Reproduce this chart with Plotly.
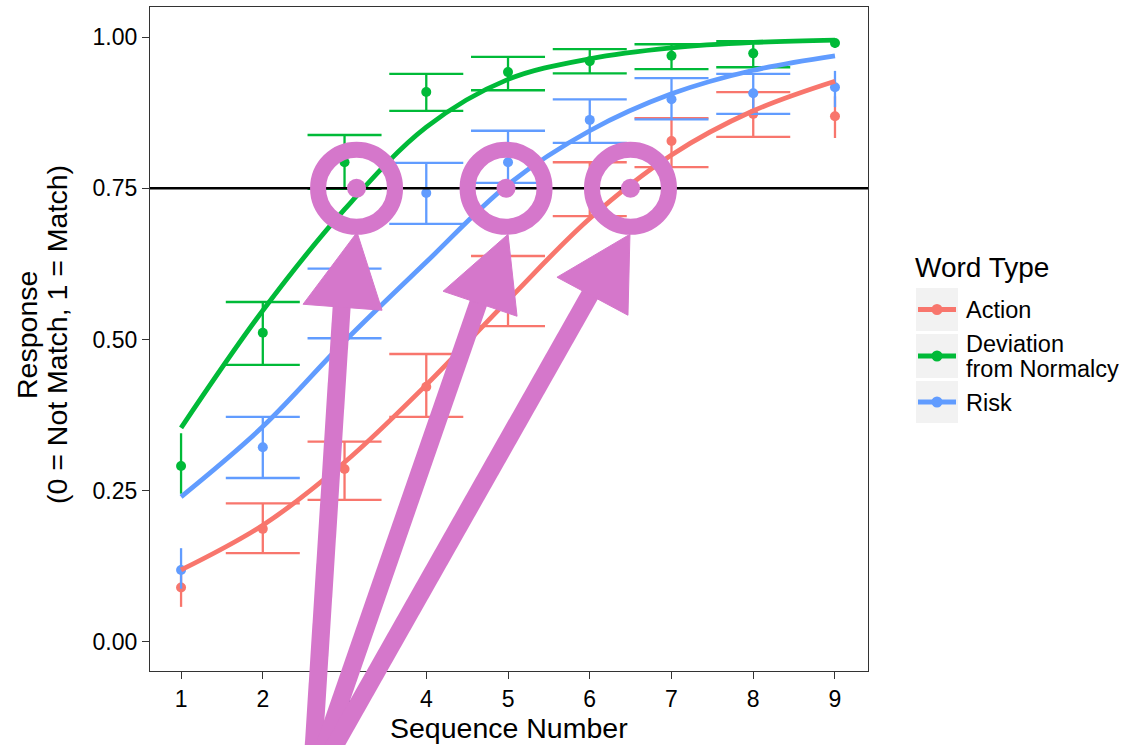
import plotly.graph_objects as go

# ---------------- data ----------------
seq = [1, 2, 3, 4, 5, 6, 7, 8, 9]
series_names = ["Action", "Deviation from Normalcy", "Risk"]
series_colors = ["#F8766D", "#00BA38", "#619CFF"]

action_mean = [0.090, 0.187, 0.286, 0.422, 0.580, 0.749, 0.828, 0.873, 0.869]
action_lo   = [0.058, 0.147, 0.235, 0.372, 0.522, 0.704, 0.785, 0.835, 0.833]
action_hi   = [0.122, 0.229, 0.331, 0.476, 0.638, 0.793, 0.866, 0.909, 0.902]
action_fit  = [0.119, 0.193, 0.297, 0.425, 0.565, 0.700, 0.805, 0.878, 0.927]

deviation_mean = [0.291, 0.511, 0.793, 0.909, 0.942, 0.960, 0.969, 0.973, 0.990]
deviation_lo   = [0.245, 0.458, 0.749, 0.878, 0.912, 0.940, 0.947, 0.950, 0.982]
deviation_hi   = [0.345, 0.562, 0.838, 0.939, 0.967, 0.980, 0.988, 0.993, 0.997]
deviation_fit  = [0.354, 0.548, 0.715, 0.851, 0.930, 0.964, 0.982, 0.991, 0.995]

risk_mean = [0.119, 0.322, 0.560, 0.742, 0.793, 0.863, 0.897, 0.907, 0.917]
risk_lo   = [0.088, 0.271, 0.502, 0.691, 0.759, 0.825, 0.864, 0.873, 0.884]
risk_hi   = [0.155, 0.372, 0.617, 0.792, 0.845, 0.897, 0.932, 0.939, 0.944]
risk_fit  = [0.240, 0.356, 0.497, 0.628, 0.756, 0.845, 0.906, 0.945, 0.969]

threshold = 0.75
crossings = [3.147, 4.976, 6.498]   # where the fitted curves reach 0.75 (Deviation, Risk, Action)

x_ticks = [1, 2, 3, 4, 5, 6, 7, 8, 9]
y_ticks = [0.0, 0.25, 0.5, 0.75, 1.0]
y_ticklabels = ["0.00", "0.25", "0.50", "0.75", "1.00"]

# ---------------- layout geometry ----------------
W, H = 1132, 745
ML, MR, MT, MB = 150, 264, 7, 74
PW, PH = W - ML - MR, H - MT - MB
x_range = [0.62, 9.404]
y_range = [-0.048, 1.0496]
FONT = "Liberation Sans, Arial, sans-serif"
PURPLE = "#D577CB"


def pxp(x):  # pixel x -> paper
    return (x - ML) / PW


def pyp(y):  # pixel y (from top) -> paper
    return (H - MB - y) / PH


def dxp(v):  # data x -> paper
    return (v - x_range[0]) / (x_range[1] - x_range[0])


def dyp(v):
    return (v - y_range[0]) / (y_range[1] - y_range[0])


fig = go.Figure()

all_series = [
    (action_mean, action_lo, action_hi, action_fit),
    (deviation_mean, deviation_lo, deviation_hi, deviation_fit),
    (risk_mean, risk_lo, risk_hi, risk_fit),
]

for (mean, lo, hi, fit), name, col in zip(all_series, series_names, series_colors):
    inner = [i for i, s in enumerate(seq) if 1 < s < 9]
    outer = [i for i, s in enumerate(seq) if s in (1, 9)]
    for idx, capw in ((inner, 37), (outer, 0)):
        fig.add_trace(go.Scatter(
            x=[seq[i] for i in idx],
            y=[mean[i] for i in idx],
            mode="markers",
            marker=dict(color=col, size=10),
            error_y=dict(type="data", symmetric=False,
                         array=[hi[i] - mean[i] for i in idx],
                         arrayminus=[mean[i] - lo[i] for i in idx],
                         width=capw, thickness=2.3, color=col),
            showlegend=False, hoverinfo="skip", name=name,
        ))

for (mean, lo, hi, fit), name, col in zip(all_series, series_names, series_colors):
    fig.add_trace(go.Scatter(
        x=seq, y=fit, mode="lines",
        line=dict(color=col, width=4.8, shape="spline", smoothing=1.0),
        showlegend=False, hoverinfo="skip", name=name,
    ))

shapes = []
# threshold line
shapes.append(dict(type="line", xref="paper", yref="y", x0=0, x1=1,
                   y0=threshold, y1=threshold, line=dict(color="black", width=2.5),
                   layer="above"))

# ---------------- purple call-outs ----------------
# arrow geometry in pixel offsets from each circle centre (positive y = up)
arrow_geo = [
    dict(tip=(0.5, -44), bl=(-53.5, -116), br=(25.5, -122), base=(-14.5, -112), tail=(-45.5, -600)),
    dict(tip=(2, -46), bl=(-63, -103), br=(11, -128), base=(-26, -110), tail=(-196, -600)),
    dict(tip=(-0.5, -46), bl=(-73.5, -89), br=(-2.5, -127), base=(-38, -102), tail=(-320, -600)),
]
for cx, g in zip(crossings, arrow_geo):
    ax, ay = dxp(cx), dyp(threshold)
    common = dict(xref="paper", yref="paper", xsizemode="pixel", ysizemode="pixel",
                  xanchor=ax, yanchor=ay, layer="above")
    shapes.append(dict(type="circle", x0=-38.5, x1=38.5, y0=-38.5, y1=38.5,
                       line=dict(color=PURPLE, width=16), fillcolor="rgba(0,0,0,0)", **common))
    shapes.append(dict(type="circle", x0=-9.5, x1=9.5, y0=-9.5, y1=9.5,
                       line=dict(color=PURPLE, width=0), fillcolor=PURPLE, **common))
    shapes.append(dict(type="line", x0=g["tail"][0], y0=g["tail"][1],
                       x1=g["base"][0], y1=g["base"][1],
                       line=dict(color=PURPLE, width=18), **common))
    path = "M {} {} L {} {} L {} {} Z".format(g["tip"][0], g["tip"][1], g["bl"][0], g["bl"][1],
                                            g["br"][0], g["br"][1])
    shapes.append(dict(type="path", path=path, fillcolor=PURPLE,
                       line=dict(color=PURPLE, width=1), **common))

# ---------------- legend (drawn by hand, ggplot style) ----------------
annotations = []
key_boxes = [(288, 331), (334, 378), (381, 423)]
for (top, bot), col in zip(key_boxes, series_colors):
    shapes.append(dict(type="rect", xref="paper", yref="paper",
                       x0=pxp(916), x1=pxp(958), y0=pyp(bot), y1=pyp(top),
                       fillcolor="#F2F2F2", line=dict(width=0), layer="above"))
    yc = (top + bot) / 2
    shapes.append(dict(type="line", xref="paper", yref="paper",
                       x0=pxp(918), x1=pxp(956), y0=pyp(yc), y1=pyp(yc),
                       line=dict(color=col, width=5), layer="above"))
    shapes.append(dict(type="circle", xref="paper", yref="paper", xsizemode="pixel",
                       ysizemode="pixel", xanchor=pxp(937), yanchor=pyp(yc),
                       x0=-5.5, x1=5.5, y0=-5.5, y1=5.5, fillcolor=col,
                       line=dict(width=0), layer="above"))

annotations.append(dict(text="Word Type", x=pxp(913), y=pyp(267), xref="paper", yref="paper",
                        xanchor="left", yanchor="middle", showarrow=False,
                        font=dict(family=FONT, size=28, color="black")))
legend_lines = [("Action", 310), ("Deviation", 344), ("from Normalcy", 369), ("Risk", 403)]
for txt, yc in legend_lines:
    annotations.append(dict(text=txt, x=pxp(964), y=pyp(yc), xref="paper", yref="paper",
                            xanchor="left", yanchor="middle", showarrow=False,
                            font=dict(family=FONT, size=23.5, color="black")))

# axis titles
annotations.append(dict(text="Sequence Number", x=pxp(509), y=pyp(728), xref="paper", yref="paper",
                        xanchor="center", yanchor="middle", showarrow=False,
                        font=dict(family=FONT, size=28.5, color="black")))
annotations.append(dict(text="Response", x=pxp(27), y=pyp(335), xref="paper", yref="paper",
                        xanchor="center", yanchor="middle", showarrow=False, textangle=-90,
                        font=dict(family=FONT, size=28.5, color="black")))
annotations.append(dict(text="(0 = Not Match, 1 = Match)", x=pxp(57), y=pyp(335), xref="paper",
                        yref="paper", xanchor="center", yanchor="middle", showarrow=False,
                        textangle=-90, font=dict(family=FONT, size=28.5, color="black")))

fig.update_layout(
    width=W, height=H,
    margin=dict(l=ML, r=MR, t=MT, b=MB, pad=0),
    paper_bgcolor="white", plot_bgcolor="white",
    showlegend=False,
    shapes=shapes, annotations=annotations,
    font=dict(family=FONT, color="black"),
)
fig.update_xaxes(range=x_range, tickvals=x_ticks, ticktext=[str(t) for t in x_ticks],
                 showgrid=False, zeroline=False, showline=True, mirror=True,
                 linecolor="#333333", linewidth=1.3, ticks="outside", ticklen=7,
                 tickwidth=1.3, tickcolor="#333333",
                 tickfont=dict(family=FONT, size=23, color="black"))
fig.update_yaxes(range=y_range, tickvals=y_ticks, ticktext=y_ticklabels,
                 showgrid=False, zeroline=False, showline=True, mirror=True,
                 linecolor="#333333", linewidth=1.3, ticks="outside", ticklen=7,
                 tickwidth=1.3, tickcolor="#333333",
                 tickfont=dict(family=FONT, size=23, color="black"))

fig.write_html("out.html")
